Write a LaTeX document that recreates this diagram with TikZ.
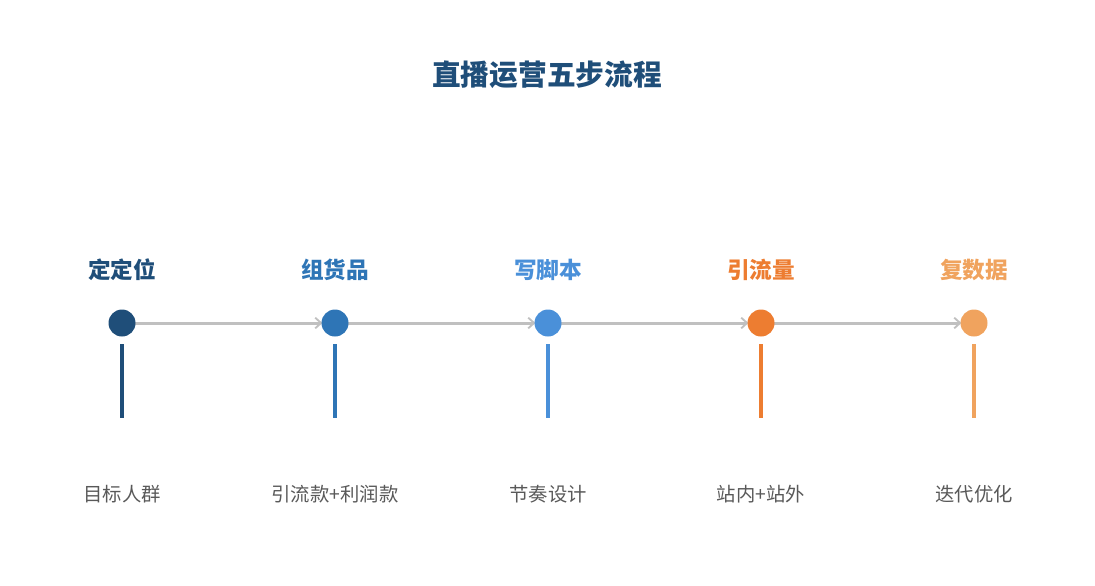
\documentclass[tikz,border=0pt]{standalone}
\usepackage{fontspec}
\setmainfont{Noto Sans CJK SC}
\usetikzlibrary{positioning,arrows.meta}
\definecolor{stepA}{HTML}{1F4E79}
\definecolor{stepB}{HTML}{2E75B6}
\definecolor{stepC}{HTML}{4A90D9}
\definecolor{stepD}{HTML}{ED7D31}
\definecolor{stepE}{HTML}{F0A35E}
\definecolor{linkgray}{HTML}{C0C0C0}
\definecolor{descgray}{HTML}{595959}

\begin{document}
\begin{tikzpicture}[x=0.03cm,y=-0.03cm]
\tikzset{
	dot/.style={circle,fill=#1,minimum size=27*0.03cm,inner sep=0pt},
	steptitle/.style={text=#1,font=\bfseries\fontsize{19.3pt}{22pt}\selectfont,inner sep=0pt},
	stepdesc/.style={text=descgray,font=\fontsize{16.5pt}{19pt}\selectfont,inner sep=0pt},
	stem/.style={draw=#1,line width=3.5*0.03cm},
	link/.style={draw=linkgray,line width=3*0.03cm,-{Straight Barb[length=5pt,width=9pt,line width=1.6pt]}}
}
\useasboundingbox (0,0) rectangle (1095,585);

\def\dotY{323}%px
\def\stemTop{344}
\def\stemBot{418}

% title
\node[text=stepA,font=\bfseries\fontsize{24.5pt}{28pt}\selectfont,inner sep=0pt] (title) at (547,75) {直播运营五步流程};

% steps
\foreach \n/\x/\c/\t/\d in {1/122/stepA/定定位/目标人群,
		2/335/stepB/组货品/引流款+利润款,
		3/548/stepC/写脚本/节奏设计,
		4/761/stepD/引流量/站内+站外,
		5/974/stepE/复数据/迭代优化}{
	\coordinate (c\n) at (\x,\dotY);
	\node[steptitle=\c] (t\n) at (\x,270) {\t};
	\node[stepdesc] (d\n) at (\x,494) {\d};
	\coordinate (u\n) at (\x,\stemTop);
	\coordinate (b\n) at (\x,\stemBot);
	\draw[stem=\c] (u\n) -- (b\n);
}

% links
\foreach \a/\b in {1/2,2/3,3/4,4/5}{
	\draw[link] ([xshift=13*0.03cm]c\a) -- ([xshift=-12.5*0.03cm]c\b);
}

% dots
\node[dot=stepA] (s1) at (c1) {};
\node[dot=stepB] (s2) at (c2) {};
\node[dot=stepC] (s3) at (c3) {};
\node[dot=stepD] (s4) at (c4) {};
\node[dot=stepE] (s5) at (c5) {};

\end{tikzpicture}
\end{document}
